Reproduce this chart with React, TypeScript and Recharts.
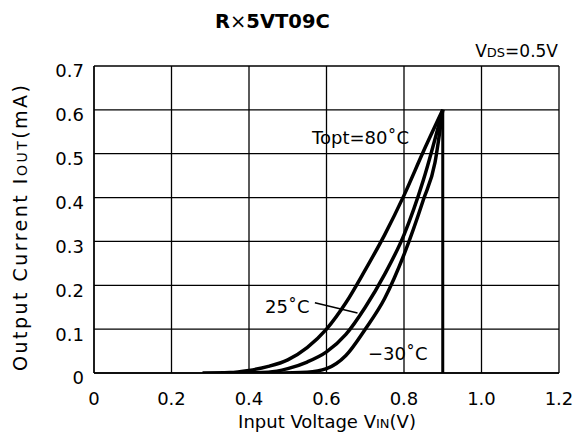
import { LineChart, Line, XAxis, YAxis, CartesianGrid, ReferenceLine } from "recharts";

// Topt = 80˚C
const hotX = [0.28, 0.35, 0.4, 0.45, 0.5, 0.55, 0.6, 0.65, 0.7, 0.75, 0.8, 0.85, 0.9];
const hotY = [0, 0.001, 0.006, 0.015, 0.03, 0.058, 0.1, 0.16, 0.235, 0.315, 0.405, 0.505, 0.6];

// 25˚C
const roomX = [0.36, 0.45, 0.5, 0.55, 0.6, 0.65, 0.7, 0.75, 0.8, 0.85, 0.9];
const roomY = [0, 0.002, 0.01, 0.025, 0.048, 0.088, 0.15, 0.225, 0.315, 0.44, 0.6];

// -30˚C
const coldX = [0.46, 0.55, 0.6, 0.65, 0.7, 0.75, 0.8, 0.85, 0.88, 0.9];
const coldY = [0, 0.002, 0.01, 0.04, 0.1, 0.17, 0.27, 0.395, 0.48, 0.6];

// vertical limit at VIN = 0.9V
const limitX = [0.9, 0.9];
const limitY = [0, 0.6];

const xTicks = [0, 0.2, 0.4, 0.6, 0.8, 1.0, 1.2];
const yTicks = [0, 0.1, 0.2, 0.3, 0.4, 0.5, 0.6, 0.7];

const toPoints = (xs: number[], ys: number[]) => xs.map((x, i) => ({ x, y: ys[i] }));

const font = "'DejaVu Sans', sans-serif";

export default function App() {
  return (
    <div style={{ position: "absolute", left: 0, top: 0, width: 577, height: 436, background: "#fff" }}>
      <LineChart width={577} height={436} margin={{ top: 66, right: 18, bottom: 23, left: 34 }}>
        <CartesianGrid stroke="#000" strokeWidth={1.3} horizontalValues={yTicks} verticalValues={xTicks} />
        <XAxis
          type="number"
          dataKey="x"
          domain={[0, 1.2]}
          ticks={xTicks}
          tickFormatter={(v: number) => (v === 0 ? "0" : v.toFixed(1))}
          height={40}
          tickLine={false}
          axisLine={{ stroke: "#000", strokeWidth: 1.3 }}
          tickSize={0}
          tickMargin={19}
          tick={{ fill: "#000", fontSize: 18, fontFamily: font }}
          allowDataOverflow
        />
        <YAxis
          type="number"
          dataKey="y"
          domain={[0, 0.7]}
          ticks={yTicks}
          tickFormatter={(v: number) => (v === 0 ? "0" : v.toFixed(1))}
          width={60}
          tickLine={false}
          axisLine={{ stroke: "#000", strokeWidth: 1.3 }}
          tickSize={0}
          tickMargin={10}
          tick={{ fill: "#000", fontSize: 18, fontFamily: font, dy: 5 }}
          allowDataOverflow
        />
        <Line data={toPoints(hotX, hotY)} dataKey="y" type="monotone" stroke="#000" strokeWidth={3.5} dot={false} isAnimationActive={false} />
        <Line data={toPoints(roomX, roomY)} dataKey="y" type="monotone" stroke="#000" strokeWidth={3.5} dot={false} isAnimationActive={false} />
        <Line data={toPoints(coldX, coldY)} dataKey="y" type="monotone" stroke="#000" strokeWidth={3.5} dot={false} isAnimationActive={false} />
        <Line data={toPoints(limitX, limitY)} dataKey="y" type="linear" stroke="#000" strokeWidth={3} dot={false} isAnimationActive={false} />
        <ReferenceLine segment={[{ x: 0.57, y: 0.16 }, { x: 0.68, y: 0.137 }]} stroke="#000" strokeWidth={1.5} />

        <text x={215} y={28} fontFamily={font} fontSize={19.5} fontWeight="bold" fill="#000">
          R<tspan fontWeight="normal">×</tspan>5VT09C
        </text>
        <text x={558} y={57} textAnchor="end" fontFamily={font} fontSize={17} fill="#000">
          V<tspan fontSize={13}>DS</tspan>=0.5V
        </text>
        <text x={312} y={144} fontFamily={font} fontSize={18} fill="#000">Topt=80˚C</text>
        <text x={265} y={313} fontFamily={font} fontSize={18} fill="#000">25˚C</text>
        <text x={368} y={360} fontFamily={font} fontSize={18} fill="#000">−30˚C</text>
        <text x={327} y={428} textAnchor="middle" fontFamily={font} fontSize={18} fill="#000">
          Input Voltage V<tspan fontSize={13}>IN</tspan>(V)
        </text>
        <text
          x={27}
          y={228}
          textAnchor="middle"
          fontFamily={font}
          fontSize={19}
          fill="#000"
          textLength={286}
          lengthAdjust="spacing"
          transform="rotate(-90 27 228)"
        >
          Output Current I<tspan fontSize={14}>OUT</tspan>(mA)
        </text>
      </LineChart>
    </div>
  );
}
